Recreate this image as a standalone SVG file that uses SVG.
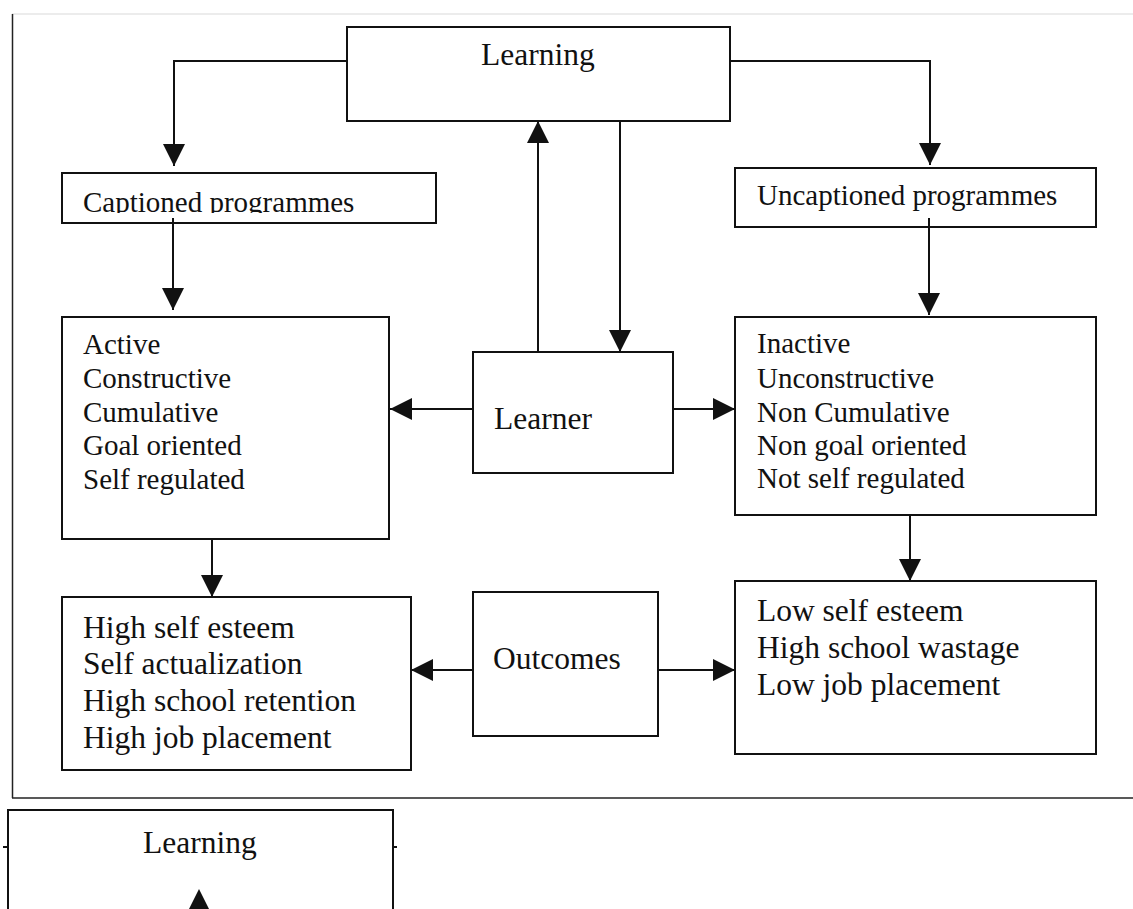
<svg xmlns="http://www.w3.org/2000/svg" width="1133" height="909" viewBox="0 0 1133 909">
  <style>
    .box { fill: #fff; stroke: #111; stroke-width: 2; }
    .conn { fill: none; stroke: #111; stroke-width: 2; }
    .frame { fill: none; stroke: #222; stroke-width: 1.5; }
    .t { font-family: "Liberation Serif", "Times New Roman", serif; fill: #111; }
    .big { font-size: 31.5px; }
    .mid { font-size: 29px; }
    .head { fill: #111; }
  </style>
  <defs>
    <marker id="ah" markerUnits="userSpaceOnUse" markerWidth="22" markerHeight="22" refX="22" refY="11" orient="auto">
      <path d="M0,0 L22,11 L0,22 z" fill="#111"/>
    </marker>
    <clipPath id="capclip">
      <rect x="62" y="173" width="374" height="40"/>
    </clipPath>
  </defs>
  <rect width="1133" height="909" fill="#fff"/>

  <g id="frame">
    <line x1="12" y1="14" x2="1133" y2="14" stroke="#e6e6e6" stroke-width="1.5"/>
    <line class="frame" x1="12.5" y1="14" x2="12.5" y2="798"/>
    <line class="frame" x1="12" y1="798" x2="1133" y2="798"/>
  </g>

  <g id="learning">
    <rect class="box" x="347" y="27" width="383" height="94"/>
    <text class="t big" x="481" y="65">Learning</text>
  </g>

  <g id="captioned">
    <rect class="box" x="62" y="173" width="374" height="50"/>
    <text class="t mid" x="83" y="212" clip-path="url(#capclip)">Captioned programmes</text>
  </g>

  <g id="uncaptioned">
    <rect class="box" x="735" y="168" width="361" height="59"/>
    <text class="t mid" x="757" y="205">Uncaptioned programmes</text>
  </g>

  <g id="active">
    <rect class="box" x="62" y="317" width="327" height="222"/>
    <text class="t mid" x="83" y="354">Active</text>
    <text class="t mid" x="83" y="388">Constructive</text>
    <text class="t mid" x="83" y="422">Cumulative</text>
    <text class="t mid" x="83" y="455">Goal oriented</text>
    <text class="t mid" x="83" y="489">Self regulated</text>
  </g>

  <g id="learner">
    <rect class="box" x="473" y="352" width="200" height="121"/>
    <text class="t big" x="494" y="429">Learner</text>
  </g>

  <g id="inactive">
    <rect class="box" x="735" y="317" width="361" height="198"/>
    <text class="t mid" x="757" y="353">Inactive</text>
    <text class="t mid" x="757" y="388">Unconstructive</text>
    <text class="t mid" x="757" y="422">Non Cumulative</text>
    <text class="t mid" x="757" y="455">Non goal oriented</text>
    <text class="t mid" x="757" y="488">Not self regulated</text>
  </g>

  <g id="high">
    <rect class="box" x="62" y="597" width="349" height="173"/>
    <text class="t big" x="83" y="638">High self esteem</text>
    <text class="t big" x="83" y="674">Self actualization</text>
    <text class="t big" x="83" y="711">High school retention</text>
    <text class="t big" x="83" y="748">High job placement</text>
  </g>

  <g id="outcomes">
    <rect class="box" x="473" y="592" width="185" height="144"/>
    <text class="t big" x="493" y="669">Outcomes</text>
  </g>

  <g id="low">
    <rect class="box" x="735" y="581" width="361" height="173"/>
    <text class="t big" x="757" y="621">Low self esteem</text>
    <text class="t big" x="757" y="658">High school wastage</text>
    <text class="t big" x="757" y="695">Low job placement</text>
  </g>

  <g id="learning2">
    <rect class="box" x="8" y="810" width="385" height="120"/>
    <text class="t big" x="143" y="853">Learning</text>
  </g>

  <g id="connectors">
    <path class="conn" d="M347,61 H174 V166" marker-end="url(#ah)"/>
    <path class="conn" d="M730,61 H930 V165" marker-end="url(#ah)"/>
    <path class="conn" d="M173,218 V310" marker-end="url(#ah)"/>
    <path class="conn" d="M929,218 V315" marker-end="url(#ah)"/>
    <path class="conn" d="M538,352 V121" marker-end="url(#ah)"/>
    <path class="conn" d="M620,121 V352" marker-end="url(#ah)"/>
    <path class="conn" d="M473,409 H390" marker-end="url(#ah)"/>
    <path class="conn" d="M673,409 H735" marker-end="url(#ah)"/>
    <path class="conn" d="M212,539 V597" marker-end="url(#ah)"/>
    <path class="conn" d="M910,515 V581" marker-end="url(#ah)"/>
    <path class="conn" d="M473,670 H411" marker-end="url(#ah)"/>
    <path class="conn" d="M658,670 H735" marker-end="url(#ah)"/>
    <path class="conn" d="M3,847 H8 M393,847 H397"/>
    <path class="head" d="M199,889 L210,911 L188,911 z"/>
  </g>
</svg>
